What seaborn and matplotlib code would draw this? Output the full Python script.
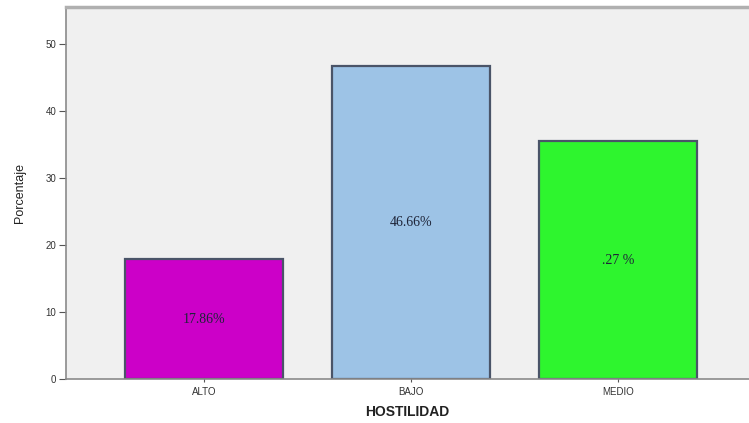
import matplotlib
matplotlib.use("Agg")
import matplotlib.pyplot as plt
import seaborn as sns
import pandas as pd

categorias = ["ALTO", "BAJO", "MEDIO"]
porcentajes = [17.86, 46.66, 35.48]
etiquetas = ["17.86%", "46.66%", ".27 %"]
colores = ["#CC00C8", "#9DC3E6", "#2EF52E"]
yticks = [0, 10, 20, 30, 40, 50]

df = pd.DataFrame({"HOSTILIDAD": categorias, "Porcentaje": porcentajes})

sns.set_theme(style="white")
plt.rcParams["font.family"] = ["Liberation Sans", "DejaVu Sans"]

fig = plt.figure(figsize=(7.49, 4.23), dpi=100)
fig.patch.set_facecolor("white")
ax = fig.add_axes([0.088, 0.104, 0.912, 0.8795])
ax.set_facecolor("#F0F0F0")

sns.barplot(data=df, x="HOSTILIDAD", y="Porcentaje", hue="HOSTILIDAD",
            palette=colores, legend=False, width=0.76, ax=ax,
            edgecolor="#4A5468", linewidth=1.6, saturation=1)

# percentage text centred in each bar
for patch, txt in zip(ax.patches, etiquetas):
    cx = patch.get_x() + patch.get_width() / 2
    ax.text(cx, patch.get_height() / 2, txt, ha="center", va="center",
            fontsize=10, family=["Liberation Serif", "DejaVu Serif"],
            color="#1E2438")

ax.set_xlim(-0.667, 2.633)
ax.set_ylim(0, 55.5)
ax.set_yticks(yticks)
ax.tick_params(axis="y", direction="out", length=5, width=0.8,
               labelsize=7, colors="#555555", pad=2, left=True)
ax.tick_params(axis="x", direction="inout", length=5, width=0.8,
               labelsize=7, colors="#555555", pad=3, bottom=True)
for lbl in ax.get_xticklabels() + ax.get_yticklabels():
    lbl.set_color("#333333")

for side in ["left", "bottom", "top"]:
    ax.spines[side].set_visible(True)
    ax.spines[side].set_color("#8A8A8A")
    ax.spines[side].set_linewidth(1.2)
ax.spines["top"].set_color("#B0B0B0")
ax.spines["top"].set_linewidth(2.5)
ax.spines["right"].set_visible(False)

ax.set_xlabel("HOSTILIDAD", fontsize=10, fontweight="bold", color="#222222",
              labelpad=6)
ax.set_ylabel("Porcentaje", fontsize=9, color="#222222", labelpad=14)

fig.savefig("out.png", dpi=100)
